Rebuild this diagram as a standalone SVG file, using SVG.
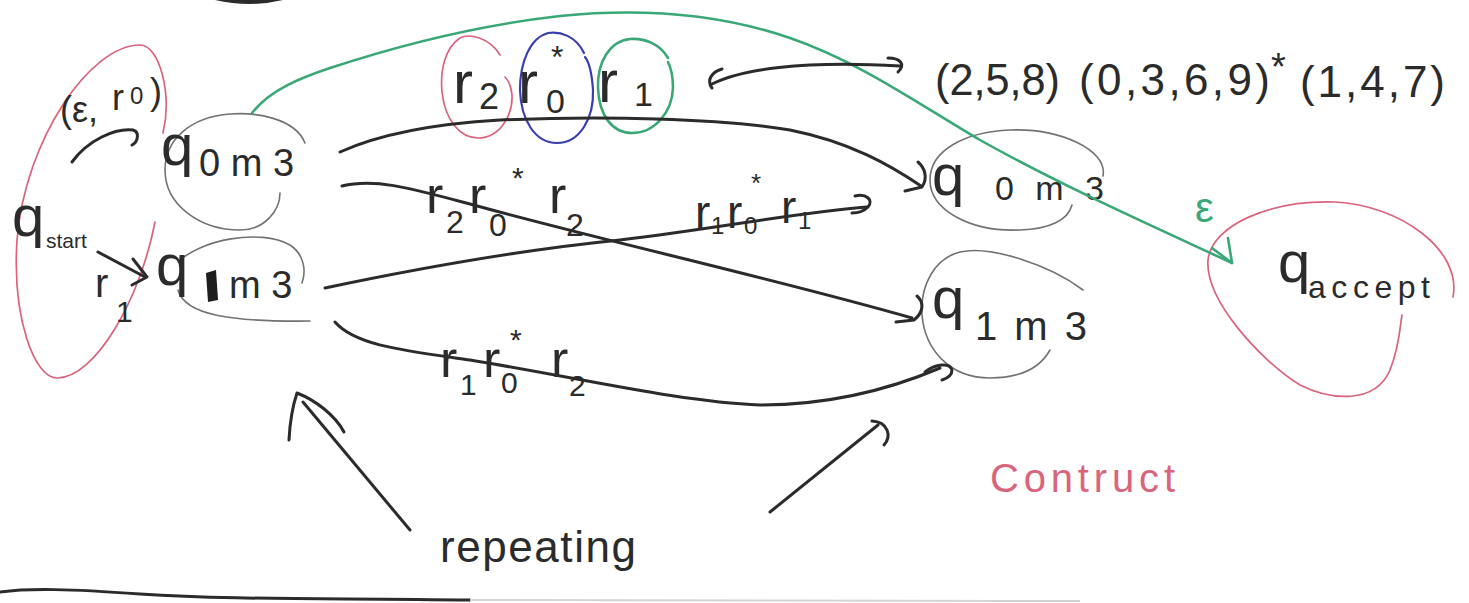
<svg xmlns="http://www.w3.org/2000/svg" width="1469" height="603" viewBox="0 0 1469 603">
<style>
.ink{fill:none;stroke:#2b2b2b;stroke-width:3;stroke-linecap:round;stroke-linejoin:round}
.node{fill:none;stroke:#727272;stroke-width:1.6;stroke-linecap:round}
.red{fill:none;stroke:#d9647c;stroke-width:1.7;stroke-linecap:round}
.green{fill:none;stroke:#3aa876;stroke-width:2.6;stroke-linecap:round;stroke-linejoin:round}
.blue{fill:none;stroke:#3a3fb0;stroke-width:2.2;stroke-linecap:round}
.t{font-family:"Liberation Sans","DejaVu Sans",sans-serif;fill:#2b2b2b}
.tr{font-family:"Liberation Sans","DejaVu Sans",sans-serif;fill:#d9647c}
.tg{font-family:"Liberation Sans","DejaVu Sans",sans-serif;fill:#3aa876}
</style>
<rect width="1469" height="603" fill="#ffffff"/>

<!-- decorations -->
<g id="decor">
<path d="M215,0 Q250,8 283,0 Z" fill="#2b2b2b"/>
<path class="ink" d="M0,592 C30,588 70,589 140,594 C230,600 330,598 470,600" stroke-width="3.5"/>
<path d="M470,600 L1080,601" stroke="#d4d4d4" stroke-width="2" fill="none"/>
</g>

<!-- start state -->
<g id="node-start">
<path class="red" d="M163,133 C172,95 160,45 140,45 C90,45 25,140 17,240 C12,320 35,378 57,378 C95,378 140,300 155,222"/>
<text class="t" x="12" y="236" font-size="58">q</text>
<text class="t" x="46" y="248" font-size="21">start</text>
</g>

<!-- left q0 m3 -->
<g id="node-q0m3-left">
<path class="node" d="M305,143 C295,118 255,112 230,114 C190,117 165,140 165,170 C165,205 200,230 240,230 C265,230 280,210 280,193"/>
<text class="t" x="161" y="165" font-size="58">q</text>
<text class="t" x="199" y="176" font-size="38">0 m 3</text>
</g>

<!-- left q? m3 (scribbled index) -->
<g id="node-qxm3-left">
<path class="node" d="M178,262 C200,240 260,228 290,245 C305,255 306,272 302,283"/>
<path class="node" d="M178,290 C185,315 230,322 310,321"/>
<text class="t" x="156" y="285" font-size="58">q</text>
<path d="M206,273 L216,270 L218,300 L208,302 Z" fill="#1e1e1e"/>
<text class="t" x="229" y="298" font-size="38">m 3</text>
</g>

<!-- right q0 m3 -->
<g id="node-q0m3-right">
<path class="node" d="M1103,176 C1108,150 1060,128 1010,130 C965,132 930,150 930,180 C930,210 970,232 1020,230 C1050,229 1068,220 1072,205"/>
<text class="t" x="932" y="195" font-size="58">q</text>
<text class="t" x="995" y="200" font-size="34" letter-spacing="6">0 m 3</text>
</g>

<!-- right q1 m3 -->
<g id="node-q1m3-right">
<path class="node" d="M1083,290 C1050,265 990,245 960,252 C935,258 920,285 922,315 C925,350 950,378 990,378 C1020,378 1040,368 1050,350"/>
<text class="t" x="932" y="318" font-size="58">q</text>
<text class="t" x="975" y="340" font-size="40" letter-spacing="3">1 m 3</text>
</g>

<!-- accept state -->
<g id="node-accept">
<path class="red" d="M1453,297 C1462,250 1400,205 1335,202 C1270,200 1212,225 1208,260 C1205,300 1260,360 1300,385 C1330,400 1375,405 1390,370 C1400,345 1400,325 1402,315"/>
<text class="t" x="1278" y="282" font-size="58">q</text>
<text class="t" x="1308" y="298" font-size="32" textLength="122" lengthAdjust="spacing">accept</text>
</g>

<!-- regex decomposition -->
<g id="regex-parts">
<path class="red" d="M500,55 C490,38 470,33 460,38 C445,48 440,70 442,92 C445,120 460,138 478,138 C500,138 513,115 512,95 C511,85 508,80 505,77"/>
<path class="blue" d="M584,53 C576,36 560,31 548,33 C530,38 520,62 520,90 C521,120 535,143 557,143 C580,143 594,118 593,90 C592,75 589,62 585,57"/>
<path class="green" d="M668,58 C660,44 645,38 630,39 C610,41 597,62 598,88 C599,115 612,133 632,133 C655,133 672,112 673,88 C673,76 670,66 668,62" stroke-width="2.2"/>
<text class="t" x="453" y="103" font-size="60">r</text>
<text class="t" x="479" y="109" font-size="36">2</text>
<text class="t" x="518" y="103" font-size="60">r</text>
<text class="t" x="546" y="113" font-size="34">0</text>
<text class="t" x="551" y="68" font-size="32">*</text>
<text class="t" x="598" y="102" font-size="60">r</text>
<text class="t" x="634" y="106" font-size="34">1</text>
</g>

<g id="regex-text">
<text class="t" x="935" y="95" font-size="44" textLength="125" lengthAdjust="spacingAndGlyphs">(2,5,8)</text>
<text class="t" x="1079" y="95" font-size="44" textLength="191" lengthAdjust="spacing">(0,3,6,9)</text>
<text class="t" x="1271" y="80" font-size="38">*</text>
<text class="t" x="1300" y="97" font-size="44" textLength="145" lengthAdjust="spacing">(1,4,7)</text>
</g>

<!-- connectors -->
<g id="connectors">
<!-- start -> q0m3 -->
<path class="ink" d="M72,162 C88,140 115,128 133,130 C140,132 138,142 132,145"/>
<!-- start -> qxm3 -->
<path class="ink" d="M98,252 L145,277"/>
<path class="ink" d="M133,259 L147,277 L132,285"/>
<!-- q0m3 left -> q0m3 right -->
<path class="ink" d="M340,152 C380,134 430,124 500,120 C600,116 720,118 790,130 C850,142 890,165 921,186"/>
<path class="ink" d="M905,191 L922,187 C928,178 925,168 918,162"/>
<!-- q0m3 left -> q1m3 right -->
<path class="ink" d="M342,186 C375,178 410,188 470,204 C600,240 780,280 912,318"/>
<path class="ink" d="M896,322 L914,320 C924,312 924,302 917,296"/>
<!-- qxm3 left -> q0m3 right -->
<path class="ink" d="M325,288 C420,268 520,250 620,240 C720,228 800,212 867,207"/>
<path class="ink" d="M855,196 C866,193 874,200 868,207 C864,211 858,213 852,213"/>
<!-- qxm3 left -> q1m3 right -->
<path class="ink" d="M335,322 C355,345 400,350 470,360 C580,378 680,402 760,405 C840,405 900,385 940,368"/>
<path class="ink" d="M925,372 C935,364 950,362 952,370 C952,375 948,378 942,380"/>
<!-- q0m3 left -> accept (epsilon) -->
<path class="green" d="M252,113 C270,90 300,78 330,68 C400,45 480,25 560,16 C640,8 720,14 790,38 C860,62 920,105 980,140 C1060,185 1150,225 1232,263"/>
<path class="green" d="M1212,248 L1232,263 L1228,238"/>
<!-- regex correspondence -->
<path class="ink" d="M712,84 C740,70 800,60 900,66"/>
<path class="ink" d="M722,69 C712,72 706,80 712,88"/>
<path class="ink" d="M888,58 C900,58 906,64 898,72"/>
</g>

<!-- connector labels -->
<g id="labels">
<text class="t" x="60" y="122" font-size="36">(ε,</text>
<text class="t" x="112" y="110" font-size="36">r</text>
<text class="t" x="130" y="104" font-size="24">0</text>
<text class="t" x="150" y="104" font-size="36">)</text>
<text class="t" x="95" y="297" font-size="40">r</text>
<text class="t" x="116" y="322" font-size="30">1</text>
<text class="tg" x="1195" y="222" font-size="42">ε</text>

<text class="t" x="426" y="213" font-size="52">r</text>
<text class="t" x="446" y="233" font-size="32">2</text>
<text class="t" x="469" y="213" font-size="52">r</text>
<text class="t" x="489" y="236" font-size="32">0</text>
<text class="t" x="512" y="188" font-size="30">*</text>
<text class="t" x="549" y="213" font-size="52">r</text>
<text class="t" x="566" y="236" font-size="32">2</text>

<text class="t" x="695" y="228" font-size="46">r</text>
<text class="t" x="711" y="234" font-size="24">1</text>
<text class="t" x="727" y="228" font-size="46">r</text>
<text class="t" x="744" y="234" font-size="24">0</text>
<text class="t" x="751" y="192" font-size="26">*</text>
<text class="t" x="781" y="223" font-size="46">r</text>
<text class="t" x="798" y="229" font-size="24">1</text>

<text class="t" x="440" y="377" font-size="52">r</text>
<text class="t" x="460" y="395" font-size="30">1</text>
<text class="t" x="483" y="377" font-size="52">r</text>
<text class="t" x="501" y="393" font-size="30">0</text>
<text class="t" x="510" y="350" font-size="30">*</text>
<text class="t" x="551" y="377" font-size="52">r</text>
<text class="t" x="569" y="396" font-size="30">2</text>
</g>

<!-- notes -->
<g id="notes">
<path class="ink" d="M410,530 L303,402"/>
<path class="ink" d="M289,440 C290,420 293,405 297,393 C315,400 335,415 344,432"/>
<path class="ink" d="M770,512 L878,425"/>
<path class="ink" d="M872,421 C888,422 892,436 884,445"/>
<text class="t" x="440" y="562" font-size="44" textLength="196" lengthAdjust="spacing">repeating</text>
<text class="tr" x="990" y="492" font-size="40" textLength="185" lengthAdjust="spacing">Contruct</text>
</g>
</svg>
